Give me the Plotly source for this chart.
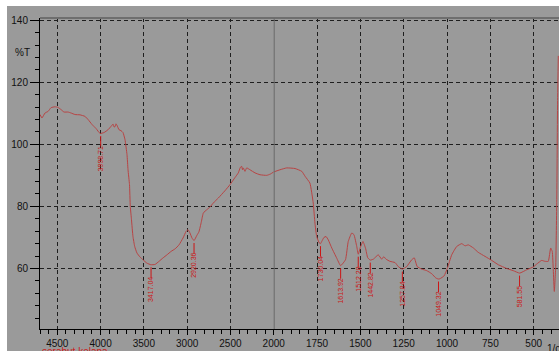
import plotly.graph_objects as go

# ---------------- data ----------------
wavenumber = [
    4700, 4677, 4642, 4607, 4573, 4527, 4492, 4457, 4423, 4376, 4342, 4296, 4238, 4180, 4145,
    4099, 4053, 4006, 3960, 3914, 3879, 3856, 3845, 3833, 3822, 3810, 3787, 3764, 3741, 3718,
    3695, 3683, 3666, 3657, 3643, 3626, 3606, 3580, 3545, 3510, 3464, 3418, 3371, 3325, 3279,
    3233, 3186, 3140, 3094, 3048, 3013, 2990, 2967, 2944, 2920, 2887, 2864, 2836, 2813, 2774,
    2736, 2698, 2640, 2565, 2505, 2447, 2409, 2385, 2370, 2360, 2351, 2332, 2312, 2274, 2216,
    2158, 2081, 2040, 2000,
    1964, 1925, 1877, 1838, 1819, 1791, 1772, 1762, 1752, 1737, 1730, 1723, 1710, 1698, 1685,
    1665, 1637, 1614, 1586, 1570, 1550, 1537, 1521, 1512, 1500, 1485, 1470, 1458, 1443, 1425,
    1397, 1377, 1365, 1352, 1329, 1300, 1281, 1258, 1233, 1204, 1189, 1172, 1146, 1117, 1088,
    1064, 1049, 1041, 1017, 998, 973, 944, 915, 896, 877, 848, 820, 781, 742, 704,
    656, 618, 581, 540, 502, 483, 454, 435, 416, 402, 393, 387, 381, 373, 367, 362, 358,
]
transmittance = [
    109.6, 108.5, 110.1, 110.6, 111.8, 112.1, 111.9, 111.2, 110.4, 110.4, 110.1, 109.6, 109.5, 109.0, 108.0,
    106.4, 105.1, 103.5, 103.8, 104.7, 105.8, 106.5, 105.6, 105.7, 106.6, 106.1, 104.7, 104.4, 103.8, 101.5,
    96.7, 91.8, 87.0, 80.0, 75.7, 70.3, 67.1, 65.0, 63.7, 62.8, 61.7, 61.2, 61.3, 62.3, 63.4,
    64.4, 65.5, 66.3, 67.6, 69.8, 71.9, 72.5, 71.4, 69.8, 69.0, 70.7, 71.8, 75.0, 77.9, 78.9,
    79.8, 81.1, 82.7, 85.0, 87.0, 89.3, 90.8, 92.6, 92.9, 91.8, 92.4, 91.3, 92.4, 91.8, 90.8,
    90.2, 90.0, 90.4, 91.1,
    91.8, 92.4, 92.2, 91.3, 89.7, 87.5, 81.1, 74.6, 70.3, 68.2, 68.0, 68.7, 70.0, 70.3, 69.2,
    66.6, 63.4, 60.9, 62.8, 68.7, 71.4, 70.9, 67.1, 64.6, 66.8, 68.7, 66.5, 63.5, 62.7, 63.0,
    64.4, 63.0, 63.8, 63.0, 62.3, 61.9, 60.6, 59.8, 60.6, 62.8, 63.4, 60.6, 59.8, 59.3, 58.3,
    56.9, 56.6, 56.7, 57.6, 60.1, 64.4, 67.1, 68.0, 67.3, 67.6, 66.6, 65.2, 63.9, 62.6, 61.2,
    60.0, 59.3, 58.5, 59.6, 60.5, 61.4, 62.6, 62.3, 62.3, 66.6, 65.5, 59.6, 52.6, 60.6, 81.2, 115.0, 128.5,
]

peak_wn = [3998.71, 3417.04, 2920.36, 1730.04, 1613.92, 1512.28, 1442.82, 1257.84, 1049.32, 581.55]
peak_T = [103.5, 61.2, 69.0, 68.0, 60.9, 64.6, 62.7, 59.8, 56.6, 58.5]
peak_labels = ["3998.71", "3417.04", "2920.36", "1730.04", "1613.92", "1512.28",
               "1442.82", "1257.84", "1049.32", "581.55"]

x_ticks_left = [4500, 4000, 3500, 3000, 2500]
x_ticks_right = [2000, 1750, 1500, 1250, 1000, 750, 500]
y_ticks = [60, 80, 100, 120, 140]

sample_name = "serabut kelapa"
y_title = "%T"
x_unit = "1/cm"

# ---------------- style ----------------
BG = "#9a9a9a"
CURVE = "#b84444"
PEAK = "#cc1515"
FONT = "Arial, Liberation Sans, sans-serif"
GRID = dict(showgrid=True, gridcolor="#1e1e1e", gridwidth=1, griddash="4px,3px")

W, H = 559, 351
# plot area in window pixels: left 40, right 559, top 18, bottom 329
PL, PR, PT, PB = 40, 559, 18, 329
ML, MR, MT, MB = PL, W - PR, PT, H - PB
plot_w = PR - PL
plot_h = PB - PT

SPLIT = 2000
x_left_range = [4700, 2000]
x_right_range = [2000, 354]
split_frac = 0.4503

xl = [w for w in wavenumber if w >= SPLIT]
yl = [t for w, t in zip(wavenumber, transmittance) if w >= SPLIT]
xr = [w for w in wavenumber if w <= SPLIT]
yr = [t for w, t in zip(wavenumber, transmittance) if w <= SPLIT]

fig = go.Figure()
fig.add_trace(go.Scatter(x=xl, y=yl, mode="lines", xaxis="x", yaxis="y",
                         line=dict(color=CURVE, width=1, shape="spline", smoothing=0.4),
                         hoverinfo="skip", showlegend=False))
fig.add_trace(go.Scatter(x=xr, y=yr, mode="lines", xaxis="x2", yaxis="y",
                         line=dict(color=CURVE, width=1, shape="spline", smoothing=0.4),
                         hoverinfo="skip", showlegend=False))

tickfont = dict(family=FONT, size=10, color="#111111")
xcommon = dict(ticks="outside", ticklen=5, tickcolor="black", tickwidth=1,
               showline=True, linecolor="black", linewidth=1, zeroline=False,
               tickfont=tickfont, anchor="y", automargin=False, **GRID)

fig.update_layout(
    width=W, height=H,
    margin=dict(l=ML, r=MR, t=MT, b=MB, pad=0, autoexpand=False),
    paper_bgcolor="white", plot_bgcolor=BG,
    font=dict(family=FONT, size=10, color="#111111"),
    hovermode=False,
    xaxis=dict(domain=[0, split_frac], range=x_left_range, tickmode="array",
               tickvals=x_ticks_left, ticktext=[str(v) for v in x_ticks_left],
               minor=dict(dtick=100, tick0=0, ticks="outside", ticklen=4,
                          tickcolor="black", showgrid=False),
               **xcommon),
    xaxis2=dict(domain=[split_frac, 1], range=x_right_range, tickmode="array",
                tickvals=x_ticks_right, ticktext=[str(v) for v in x_ticks_right],
                minor=dict(dtick=50, tick0=0, ticks="outside", ticklen=4,
                           tickcolor="black", showgrid=False),
                **xcommon),
    yaxis=dict(range=[40.5, 140.7], tickmode="array", tickvals=y_ticks,
               ticktext=[str(v) for v in y_ticks], ticks="outside", ticklen=9,
               tickcolor="black", showline=True, linecolor="black", linewidth=1,
               zeroline=False, tickfont=tickfont, anchor="x", automargin=False,
               minor=dict(dtick=4, tick0=0, ticks="outside", ticklen=4,
                          tickcolor="black", showgrid=False),
               **GRID),
)


def px_x(px):
    return (px - PL) / plot_w


def px_y(py):
    return (PB - py) / plot_h


shapes = []
# gray panel (white strip on the top and left edges)
shapes.append(dict(type="rect", xref="paper", yref="paper",
                   x0=px_x(7), x1=px_x(W + 2), y0=px_y(H + 2), y1=px_y(6),
                   fillcolor=BG, line=dict(width=0), layer="below"))
# top frame band
shapes.append(dict(type="line", xref="paper", yref="paper", x0=0, x1=1, y0=1, y1=1,
                   line=dict(color="#6e6e6e", width=2)))
# divider at 2000
shapes.append(dict(type="line", xref="x2", yref="paper", x0=SPLIT, x1=SPLIT, y0=0, y1=1,
                   line=dict(color="#6a6a6a", width=2)))

annotations = []
gap, length = 0.8, 3.4
for w, t, lab in zip(peak_wn, peak_T, peak_labels):
    xref = "x" if w > SPLIT else "x2"
    shapes.append(dict(type="line", xref=xref, yref="y", x0=w, x1=w,
                       y0=t - gap, y1=t - gap - length, line=dict(color=PEAK, width=1)))
    half = len(lab) * 3.2 / 2
    annotations.append(dict(x=w, y=t - gap - length, xref=xref, yref="y", text=lab,
                            showarrow=False, textangle=-90, xanchor="center", yanchor="middle",
                            yshift=-half - 1, borderpad=0,
                            font=dict(family=FONT, size=7, color=PEAK)))

annotations.append(dict(x=px_x(22), y=px_y(53), xref="paper", yref="paper",
                        text=y_title, showarrow=False, xanchor="center", yanchor="middle",
                        font=dict(family=FONT, size=10, color="#111111")))
annotations.append(dict(x=px_x(545), y=px_y(341), xref="paper", yref="paper",
                        text=x_unit, showarrow=False, xanchor="left", yanchor="top",
                        font=dict(family=FONT, size=10, color="#111111")))
annotations.append(dict(x=0, y=px_y(344), xref="paper", yref="paper",
                        text=sample_name, showarrow=False, xanchor="left", yanchor="top",
                        font=dict(family=FONT, size=10, color="#cc2020")))

fig.update_layout(shapes=shapes, annotations=annotations)
fig.write_html("out.html",
               config={"displayModeBar": False, "staticPlot": True},
               post_script="document.body.style.margin='0';"
                           "document.body.style.overflow='hidden';"
                           "document.documentElement.style.overflow='hidden';")
